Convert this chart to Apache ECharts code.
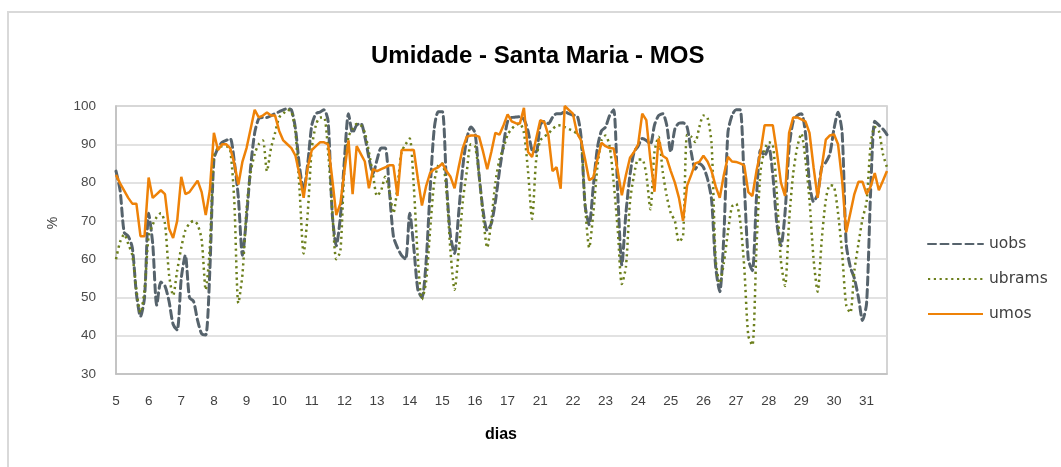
<!DOCTYPE html>
<html>
<head>
<meta charset="utf-8">
<script src="https://cdn.jsdelivr.net/npm/echarts@6/dist/echarts.min.js"></script>
<style>
  html, body { margin: 0; padding: 0; background: #ffffff; }
  #chart { width: 1061px; height: 467px; }
</style>
</head>
<body>
<div id="chart"></div>
<script>
// Days shown on the axis (18-20 have no data); eight 3-hourly readings per day.
const days = ['5','6','7','8','9','10','11','12','13','14','15','16','17','21','22','23','24','25','26','27','28','29','30','31'];
const stepsPerDay = 8;

// Observed relative humidity (%)
const uobs = [
  83, 78, 67, 66, 63, 51, 45, 50, 72, 64, 48, 54, 53, 49, 43, 41.5,
  55, 61, 50, 49, 44, 40.5, 40.2, 57, 86, 89, 90.5, 91, 91.5, 85.5, 76, 61,
  71, 84, 93, 96.7, 97, 97, 97.5, 98, 98.5, 99, 99.3, 99, 94, 84, 78, 85,
  95, 98, 98.4, 99, 96, 72, 63.5, 71, 86, 98, 93, 95, 95.5, 92, 86.5, 82.3,
  86, 89, 89, 78, 66, 63, 61, 60, 72, 63, 52, 50, 59, 78, 94, 98.5,
  98.5, 80, 66, 61.5, 72, 84, 91.5, 94.5, 93, 82, 72.5, 67.5, 69.3, 75, 83, 90,
  96, 97, 97.1, 97.2, 96.5, 93.5, 88.4, 88, 95, 96, 95.4, 97, 98, 98, 98.5, 98,
  97.6, 97.5, 92, 74, 69, 79, 89, 93.5, 94.5, 97.5, 99, 77, 58.5, 72, 82, 88,
  89.5, 91.5, 91, 90, 95, 97.5, 98, 95, 88, 94, 95.5, 95.6, 94.5, 88, 83.5, 85,
  84, 81, 75.5, 58, 51.5, 66, 93, 97.5, 99, 99, 80, 60, 57, 76, 88.5, 87,
  89.3, 82, 69.3, 63.5, 72, 89, 96, 97.5, 98, 93, 80, 75, 77, 84, 85.3, 87.5,
  94, 98.4, 93, 64, 58, 55, 50, 44, 48.5, 78, 96, 95, 94, 92.5
];

// BRAMS model forecast (%)
const ubrams = [
  60, 64.5, 66.5, 64, 61, 52, 46, 52, 66, 69, 71, 72, 69.3, 56, 50.5, 57,
  63, 67.5, 69.3, 70, 69, 65, 52, 63, 87, 89, 89.5, 89.5, 88.5, 75, 48.5, 56,
  73, 82.5, 87.5, 90, 91, 83, 89, 93, 97, 98, 99, 98.5, 93, 78, 61.5, 72,
  89, 95, 97, 97, 88, 73, 60, 62, 84, 92, 94, 95.3, 95, 93, 88, 82,
  76.5, 78, 81.5, 78, 72, 79, 88, 90, 91.5, 79, 60, 49.5, 54, 67.6, 80, 84.5,
  85, 78, 62, 52, 62, 75, 83, 90, 89.5, 82, 71, 63, 70, 80, 86, 89,
  92.5, 94, 95, 95.4, 93, 83, 70.5, 86, 91, 92, 92.8, 94, 94.8, 95, 94.5, 94,
  93.5, 92.8, 91, 74, 63, 72, 84, 91, 92.3, 89.5, 80, 67.6, 53.5, 58, 75, 82,
  86, 86, 82, 73, 88, 92, 83, 76.5, 72, 70, 64.5, 66, 92.5, 92, 90.6, 94.5,
  97.5, 97, 90, 60, 53.7, 59, 67, 73.7, 74.5, 70, 58, 40, 37.5, 63, 83, 88.5,
  90.5, 90, 77, 59.5, 53, 70, 82.3, 89.3, 92.8, 86, 75.4, 60, 51.5, 65, 75.5, 79.3,
  79, 72, 61.5, 48, 46, 57, 64, 70.5, 75, 90, 94.5, 93.5, 87.5, 84
];

// MOS-corrected forecast (%)
const umos = [
  82, 79.8, 77.9, 76, 74.5, 74.5, 66, 66, 81.3, 76, 77, 78, 77, 68, 65.5, 70,
  81.5, 77, 77.5, 79, 80.5, 77.5, 71.5, 78, 93, 88.5, 90, 90, 89, 85, 79.5, 85.5,
  89, 94, 99, 97, 97.5, 98.3, 97.5, 97.5, 93.5, 91, 90, 89, 87, 82, 76, 84,
  88.5, 89.5, 90.5, 90.5, 90, 81, 71.5, 74.5, 83, 91, 77, 89.5, 87.5, 85.5, 78.5, 83.5,
  83, 83.5, 84, 84.5, 84.5, 76.5, 88.5, 88.5, 88.5, 88.5, 81, 74, 79, 82.5, 83.5, 84,
  85, 83, 81.5, 78.5, 84, 89, 92, 92.3, 92.3, 92, 88, 83.5, 88, 93, 92.5, 95,
  97.8, 96, 95.5, 95.4, 99.5, 88, 86.7, 91.5, 96.3, 95.8, 92.3, 83, 84, 78.4, 100, 99,
  98, 93, 91, 86, 80.6, 81.3, 86, 90.4, 89.5, 89, 88.9, 83, 76.7, 82, 86.5, 88,
  90, 98, 96.3, 86, 77.6, 91.5, 87, 86.3, 83, 80, 76, 70, 79.2, 82, 85, 85.4,
  87, 85.5, 83, 79, 76, 82, 86.7, 85.5, 85.4, 85, 84.5, 77.5, 76.5, 83, 88, 95,
  95, 95, 88, 80, 76.5, 93, 97, 97, 96.5, 96, 93, 84, 76, 84, 91.2, 92.3,
  92.6, 90, 80.5, 67, 72, 77, 80.2, 80.2, 77, 79, 82.5, 78, 80.5, 83
];

// One category per reading, labelled with its day.
const categories = uobs.map((_, i) => days[Math.floor(i / stepsPerDay)] + '|' + (i % stepsPerDay));

const FONT = "'Liberation Sans', Arial, sans-serif";
const chart = echarts.init(document.getElementById('chart'), null, { renderer: 'canvas' });

chart.setOption({
  animation: false,
  backgroundColor: '#ffffff',
  textStyle: { fontFamily: FONT },
  title: {
    text: 'Umidade - Santa Maria - MOS',
    left: 366,
    top: 39,
    textStyle: { fontFamily: FONT, fontSize: 24, fontWeight: 'bold', color: '#000000' }
  },
  grid: {
    left: 116, right: 174, top: 106, bottom: 93,
    show: true, borderColor: '#c6c6c6', borderWidth: 1.5, backgroundColor: 'transparent'
  },
  legend: {
    orient: 'vertical',
    left: 927,
    top: 236,
    padding: 0,
    itemWidth: 55,
    itemHeight: 14,
    itemGap: 19,
    itemStyle: { opacity: 0 },
    textStyle: { fontFamily: "'DejaVu Sans', sans-serif", fontSize: 15.5, color: '#404040', padding: [0, 0, 0, 1] },
    data: ['uobs', 'ubrams', 'umos']
  },
  xAxis: {
    type: 'category',
    boundaryGap: false,
    data: categories,
    axisLine: { show: true, lineStyle: { color: '#bfbfbf', width: 1.5 } },
    axisTick: { show: false },
    axisLabel: {
      interval: (index) => index % stepsPerDay === 0,
      formatter: (v) => v.split('|')[0],
      fontSize: 13.5,
      color: '#404040',
      margin: 20
    },
    splitLine: { show: false }
  },
  yAxis: {
    type: 'value',
    min: 30,
    max: 100,
    interval: 10,
    axisLine: { show: true, lineStyle: { color: '#bfbfbf', width: 1.5 } },
    axisTick: { show: false },
    axisLabel: { fontSize: 13.5, color: '#4a4a4a', margin: 20 },
    splitLine: { lineStyle: { color: '#d9d9d9', width: 1.5 } }
  },
  series: [
    {
      name: 'uobs', type: 'line', data: uobs, symbol: 'none', smooth: 0.25,
      color: '#56636c',
      lineStyle: { color: '#56636c', width: 3, type: [8, 4.5], cap: 'round' },
      z: 2
    },
    {
      name: 'ubrams', type: 'line', data: ubrams, symbol: 'none', smooth: 0.25,
      color: '#6c7f1c',
      lineStyle: { color: '#6c7f1c', width: 2.5, type: [2.2, 3.6] },
      z: 3
    },
    {
      name: 'umos', type: 'line', data: umos, symbol: 'none',
      color: '#ee8208',
      lineStyle: { color: '#ee8208', width: 2.5 },
      z: 4
    }
  ],
  graphic: [
    {
      type: 'rect', silent: true, z: -1,
      shape: { x: 8, y: 12, width: 1100, height: 500 },
      style: { fill: 'none', stroke: '#d9d9d9', lineWidth: 2 }
    },
    {
      type: 'text', silent: true,
      x: 53, y: 223, rotation: Math.PI / 2,
      style: { text: '%', fontFamily: FONT, fontSize: 14, fill: '#404040', align: 'center', verticalAlign: 'middle' }
    },
    {
      type: 'text', silent: true,
      x: 501, y: 435,
      style: { text: 'dias', fontFamily: FONT, fontSize: 16, fontWeight: 'bold', fill: '#000000', align: 'center', verticalAlign: 'middle' }
    }
  ]
});
</script>
</body>
</html>
